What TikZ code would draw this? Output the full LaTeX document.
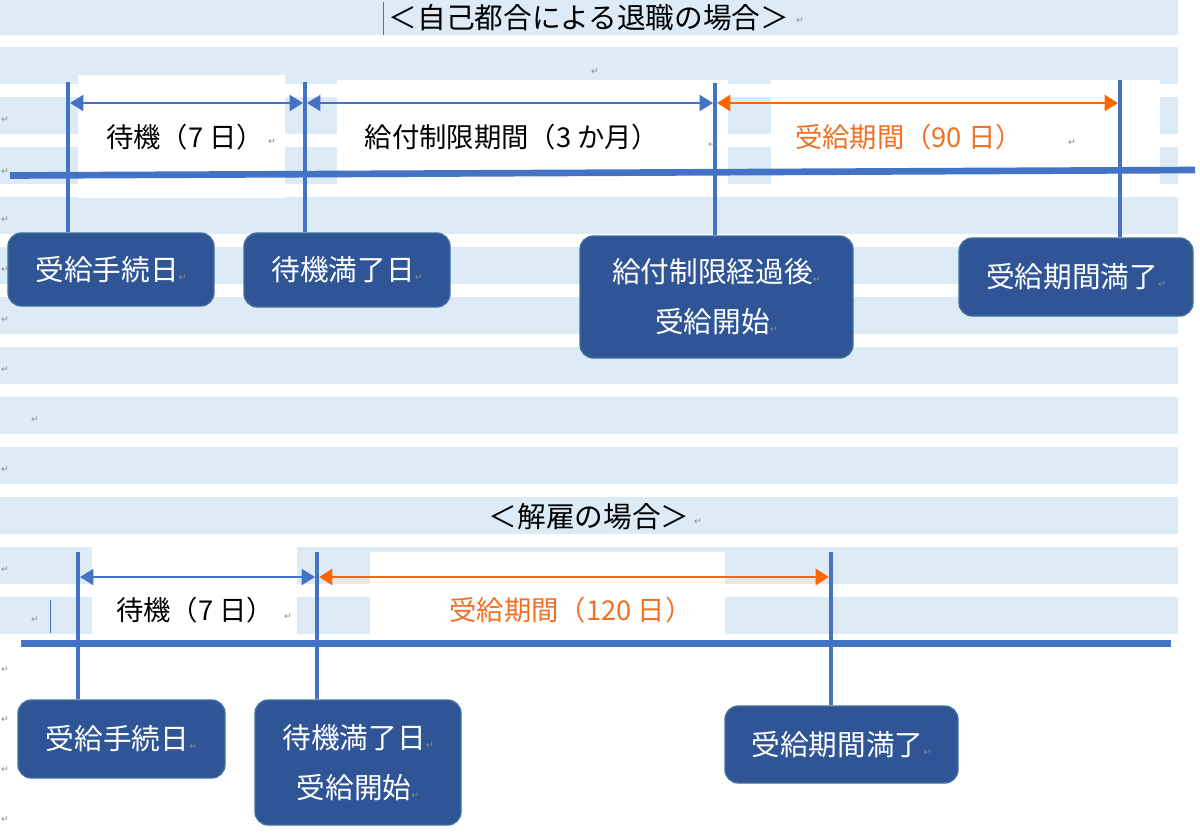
\documentclass[tikz,border=0pt]{standalone}
\usepackage{fontspec}
\setmainfont{Noto Sans CJK JP}
\newfontfamily\markfont{DejaVu Sans}
\usetikzlibrary{arrows.meta,positioning}

\definecolor{lineblue}{RGB}{68,114,196}
\definecolor{boxblue}{RGB}{47,85,151}
\definecolor{boxedge}{RGB}{65,113,156}
\definecolor{stripeblue}{RGB}{221,235,247}
\definecolor{arroworange}{RGB}{255,102,0}
\definecolor{textorange}{RGB}{240,112,36}
\definecolor{markgray}{RGB}{140,140,140}

\newcommand{\retmark}{{\markfont\fontsize{7}{7}\selectfont\textcolor{markgray}{↵}}}

\tikzset{every picture/.style={line width=0.75pt},
  datebox/.style={draw=boxedge, line width=1pt, fill=boxblue, rounded corners=10pt, text=white, align=center, inner sep=0pt, font=\fontsize{21.5}{37.5}\selectfont},
  periodlabel/.style={inner sep=0.75pt, font=\fontsize{20.5}{24}\selectfont},
  headlabel/.style={inner sep=0.75pt, font=\fontsize{21.5}{26}\selectfont},
  timeline/.style={draw=lineblue, line width=5pt},
  ticksline/.style={draw=lineblue, line width=3pt},
  bluespan/.style={draw=lineblue, line width=1.5pt, {Triangle[length=10pt,width=12pt]}-{Triangle[length=10pt,width=12pt]}, shorten <=1.5pt, shorten >=1.5pt},
  orangespan/.style={draw=arroworange, line width=2pt, {Triangle[length=10pt,width=12pt]}-{Triangle[length=10pt,width=12pt]}, shorten <=1.5pt, shorten >=1.5pt},
  retnode/.style={inner sep=0pt}
}

\begin{document}
\begin{tikzpicture}[x=0.75pt,y=0.75pt,yscale=-1,xscale=1]
\useasboundingbox (0,0) rectangle (1200,833);

%Shape: Rectangle [stripes]
\fill[stripeblue] (0,0) rectangle (1178,35);
\foreach \y in {47,97,...,597}
  \fill[stripeblue] (0,\y) rectangle (1178,\y+37);
%Shape: Rectangle [text boxes]
\fill[white] (78,75) rectangle (285,198);
\fill[white] (337,80) rectangle (728,185);
\fill[white] (771,80) rectangle (1160,185);
\fill[white] (92,547) rectangle (297,635);
\fill[white] (370,552) rectangle (725,635);

%Straight Lines [cursor]
\draw[lineblue, line width=0.6pt] (383,2) -- (383,35);
\draw[lineblue, line width=0.6pt] (50,600) -- (50,633);

% Text Node
\node[headlabel] (head1) at (589,18) {＜自己都合による退職の場合＞};
% Text Node
\node[headlabel] (head2) at (589,517) {＜解雇の場合＞};

% Text Node
\node[periodlabel] (wait1) at (185,137) {待機（7 日）};
% Text Node
\node[periodlabel] (limit1) at (512,137) {給付制限期間（3 か月）};
% Text Node
\node[periodlabel, text=textorange] (benefit1) at (909,137) {受給期間（90 日）};
% Text Node
\node[periodlabel] (wait2) at (195,610) {待機（7 日）};
% Text Node
\node[periodlabel, text=textorange] (benefit2) at (571,610) {受給期間（120 日）};

%Shape: Rounded Rect
\node[datebox, minimum width=154.5pt, minimum height=54.75pt] (kb1) at (111,269.5) {受給手続日\retmark};
\node[datebox, minimum width=154.5pt, minimum height=55.5pt] (kb2) at (347,270) {待機満了日\retmark};
\node[datebox, minimum width=204.75pt, minimum height=91.5pt] (kb3) at (716.5,297) {給付制限経過後\retmark\\受給開始\retmark};
\node[datebox, minimum width=175.5pt, minimum height=58.5pt] (kb4) at (1076,277) {受給期間満了\retmark};
\node[datebox, minimum width=155.25pt, minimum height=58.5pt] (kb5) at (121.5,739) {受給手続日\retmark};
\node[datebox, minimum width=154.5pt, minimum height=93.75pt] (kb6) at (358,762.5) {待機満了日\retmark\\受給開始\retmark};
\node[datebox, minimum width=174.75pt, minimum height=57.75pt] (kb7) at (841.5,744.5) {受給期間満了\retmark};

%Straight Lines [timeline]
\coordinate (l1) at (10,175.5);
\coordinate (l2) at (1195,170);
\coordinate (l3) at (21,643.5);
\coordinate (l4) at (1171,643.5);
\draw[timeline] (l1) -- (l2);
\draw[timeline] (l3) -- (l4);

%Straight Lines [ticks]
\coordinate (s1) at (68,82);
\coordinate (s2) at (305,82);
\coordinate (s3) at (715,83);
\coordinate (s4) at (1120,80);
\coordinate (s5) at (78,552);
\coordinate (s6) at (317,552);
\coordinate (s7) at (831,552);
\draw[ticksline] (s1) -- (s1 |- kb1.north);
\draw[ticksline] (s2) -- (s2 |- kb2.north);
\draw[ticksline] (s3) -- (s3 |- kb3.north);
\draw[ticksline] (s4) -- (s4 |- kb4.north);
\draw[ticksline] (s5) -- (s5 |- kb5.north);
\draw[ticksline] (s6) -- (s6 |- kb6.north);
\draw[ticksline] (s7) -- (s7 |- kb7.north);

%Straight Lines [spans]
\coordinate (p1) at (68,103);
\coordinate (p2) at (305,103);
\coordinate (p3) at (715,103);
\coordinate (p4) at (1120,103);
\coordinate (p5) at (78,577);
\coordinate (p6) at (317,577);
\coordinate (p7) at (831,577);
\draw[bluespan] (p1) -- (p2);
\draw[bluespan] (p2) -- (p3);
\draw[orangespan] (p3) -- (p4);
\draw[bluespan] (p5) -- (p6);
\draw[orangespan] (p6) -- (p7);

% Text Node [return marks]
\foreach \mx/\my [count=\i] in {5/120,5/172,5/220,5/270,5/320,5/370,35/420,5/470,5/570,35/620,5/670,5/720,5/770,5/820,800/21,595/72,272/142,712/145,1072/143,698/522,288/617}
  \node[retnode] (ret\i) at (\mx,\my) {\retmark};

\end{tikzpicture}
\end{document}
